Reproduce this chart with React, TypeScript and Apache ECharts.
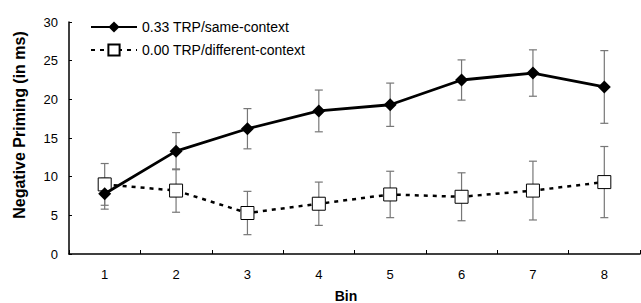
import React, { useEffect, useRef } from "react";
import * as echarts from "echarts";

const bins = ["1", "2", "3", "4", "5", "6", "7", "8"];
const sameName = "0.33 TRP/same-context";
const diffName = "0.00 TRP/different-context";
const sameMean = [7.8, 13.3, 16.2, 18.5, 19.3, 22.5, 23.4, 21.6];
const sameErr = [2.0, 2.4, 2.6, 2.7, 2.8, 2.6, 3.0, 4.7];
const diffMean = [9.0, 8.2, 5.3, 6.5, 7.7, 7.4, 8.2, 9.3];
const diffErr = [2.7, 2.8, 2.8, 2.8, 3.0, 3.1, 3.8, 4.6];
const yTitle = "Negative Priming (in ms)";
const xTitle = "Bin";

const FONT = "Liberation Sans, Arial, sans-serif";

function errorSeries(mean: number[], err: number[]) {
  const data = mean.map((m, i) => [i, m - err[i], m + err[i]]);
  return {
    type: "custom",
    z: 1,
    silent: true,
    data,
    renderItem: (params: any, api: any) => {
      const x = api.value(0);
      const lo = api.coord([x, api.value(1)]);
      const hi = api.coord([x, api.value(2)]);
      const w = 4;
      const style = { stroke: "#777", lineWidth: 1.2, fill: null };
      return {
        type: "group",
        children: [
          { type: "line", shape: { x1: lo[0], y1: lo[1], x2: hi[0], y2: hi[1] }, style },
          { type: "line", shape: { x1: lo[0] - w, y1: lo[1], x2: lo[0] + w, y2: lo[1] }, style },
          { type: "line", shape: { x1: hi[0] - w, y1: hi[1], x2: hi[0] + w, y2: hi[1] }, style },
        ],
      };
    },
  };
}

export default function App() {
  const ref = useRef<HTMLDivElement>(null);
  useEffect(() => {
    const chart = echarts.init(ref.current!, null, { renderer: "svg" });
    chart.setOption({
      animation: false,
      backgroundColor: "#fff",
      grid: { left: 69, right: 1, top: 22, bottom: 49 },
      graphic: [
        {
          type: "text",
          x: 19,
          y: 125,
          rotation: Math.PI / 2,
          style: {
            text: yTitle,
            font: `bold 16px ${FONT}`,
            fill: "#000",
            align: "center",
            verticalAlign: "middle",
          },
        },
        {
          type: "text",
          x: 346,
          y: 295.5,
          style: {
            text: xTitle,
            font: `bold 14px ${FONT}`,
            fill: "#000",
            align: "center",
            verticalAlign: "middle",
          },
        },
      ],
      legend: {
        left: 85,
        top: 15,
        orient: "vertical",
        itemWidth: 46,
        itemHeight: 14,
        itemGap: 9,
        textStyle: { fontFamily: FONT, fontSize: 14, color: "#000" },
        data: [sameName, diffName],
      },
      xAxis: {
        type: "category",
        data: bins,
        boundaryGap: true,
        axisLine: { lineStyle: { color: "#000", width: 1.5 } },
        axisTick: { show: true, inside: true, length: 4, alignWithLabel: false, lineStyle: { color: "#000" } },
        axisLabel: { fontFamily: FONT, fontSize: 13, color: "#000", margin: 14 },
        splitLine: { show: false },
      },
      yAxis: {
        type: "value",
        min: 0,
        max: 30,
        interval: 5,
        axisLine: { show: true, lineStyle: { color: "#000", width: 1.5 } },
        axisTick: { show: true, inside: true, length: 3, lineStyle: { color: "#000" } },
        axisLabel: { fontFamily: FONT, fontSize: 13, color: "#000", margin: 11 },
        splitLine: { show: false },
      },
      series: [
        errorSeries(sameMean, sameErr),
        errorSeries(diffMean, diffErr),
        {
          name: diffName,
          type: "line",
          z: 3,
          data: diffMean,
          symbol: "rect",
          symbolSize: 13,
          itemStyle: { color: "#fff", borderColor: "#000", borderWidth: 1 },
          lineStyle: { color: "#000", width: 2.5, type: [4, 5] },
        },
        {
          name: sameName,
          type: "line",
          z: 4,
          data: sameMean,
          symbol: "diamond",
          symbolSize: 13,
          itemStyle: { color: "#000", borderColor: "#000", borderWidth: 0 },
          lineStyle: { color: "#000", width: 2.8 },
        },
      ],
    });
    return () => chart.dispose();
  }, []);
  return (
    <div
      ref={ref}
      style={{ position: "fixed", left: 0, top: 0, width: 641, height: 303 }}
    />
  );
}
